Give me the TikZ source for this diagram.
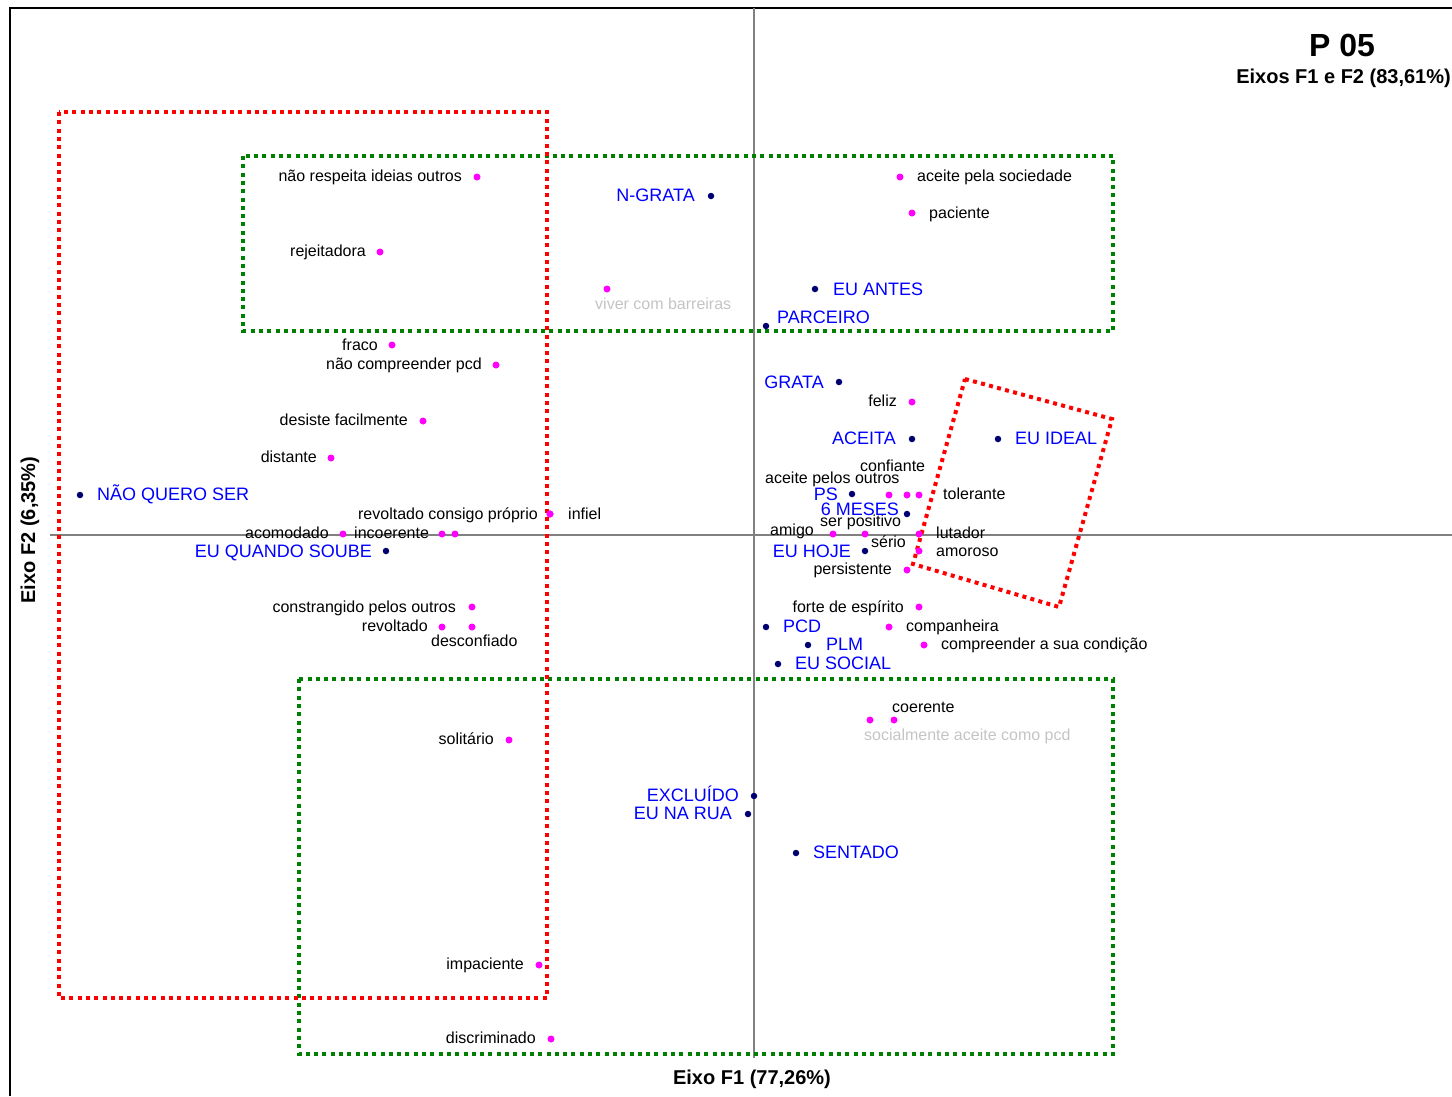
\documentclass[tikz,border=0pt]{standalone}
\usepackage{fontspec}
\setmainfont{Liberation Sans}
\definecolor{ptmag}{HTML}{FF00FF}
\definecolor{ptnavy}{HTML}{000070}
\definecolor{lblblue}{HTML}{0000FF}
\definecolor{lblgray}{HTML}{C4C4C4}
\definecolor{axgray}{HTML}{808080}
\definecolor{boxred}{HTML}{FF0000}
\definecolor{boxgreen}{HTML}{008000}
\tikzset{
  mdot/.style={circle,fill=ptmag,draw=none,minimum size=7pt,inner sep=0pt},
  ndot/.style={circle,fill=ptnavy,draw=none,minimum size=6.5pt,inner sep=0pt},
  lbl/.style={anchor=west,inner sep=0pt,text height=11.5pt,text depth=0pt,
    font=\fontsize{16}{19}\selectfont,text=black},
  blbl/.style={lbl,text height=12.9pt,font=\fontsize{18}{21}\selectfont,text=lblblue},
  glbl/.style={lbl,text=lblgray},
  dotbox/.style={line width=4pt,dash pattern=on 4pt off 4.3pt},
  redbox/.style={dotbox,draw=boxred},
  greenbox/.style={dotbox,draw=boxgreen},
  axisline/.style={draw=axgray,line width=1.4pt},
  framing/.style={draw=black,line width=1.5pt},
}
\begin{document}
\begin{tikzpicture}[x=1pt,y=-1pt]
\useasboundingbox (0,0) rectangle (1452,1096);
% frame and axes
\draw[framing] (10,1096) -- (10,8) -- (1452,8);
\draw[axisline] (754,8) -- (754,1058);
\draw[axisline] (50,535) -- (1452,535);
% grouping boxes
\draw[greenbox] (243,156) rectangle (1113,331);
\draw[greenbox] (299,679) rectangle (1113,1054);
\draw[redbox] (59,112) rectangle (547,998);
\draw[redbox] (965,379) -- (1112,419) -- (1059,607) -- (913,564) -- cycle;
% titles
\node[inner sep=0pt,font=\fontsize{32}{36}\bfseries\selectfont] (title) at (1342,45) {P 05};
\node[inner sep=0pt,anchor=east,font=\fontsize{20}{23}\bfseries\selectfont] (subtitle) at (1451,78) {Eixos F1 e F2 (83,61\%)};
\node[inner sep=0pt,font=\fontsize{20}{23}\bfseries\selectfont] (xlab) at (752,1079) {Eixo F1 (77,26\%)};
\node[inner sep=0pt,rotate=90,font=\fontsize{20}{23}\bfseries\selectfont] (ylab) at (30,530) {Eixo F2 (6,35\%)};
% magenta points (left)
\node[mdot] (p1) at (477,177) {};   \node[lbl,anchor=east] (l1) at (462,176) {não respeita ideias outros};
\node[mdot] (p2) at (380,252) {};   \node[lbl,anchor=east] (l2) at (366,251) {rejeitadora};
\node[mdot] (p3) at (607,289) {};   \node[glbl] (l3) at (595,304) {viver com barreiras};
\node[mdot] (p4) at (392,345) {};   \node[lbl,anchor=east] (l4) at (378,345) {fraco};
\node[mdot] (p5) at (496,365) {};   \node[lbl,anchor=east] (l5) at (482,364) {não compreender pcd};
\node[mdot] (p6) at (423,421) {};   \node[lbl,anchor=east] (l6) at (408,420) {desiste facilmente};
\node[mdot] (p7) at (331,458) {};   \node[lbl,anchor=east] (l7) at (317,457) {distante};
\node[mdot] (p8) at (550,514) {};   \node[lbl,anchor=east] (l8) at (538,514) {revoltado consigo próprio};
\node[mdot] (p9) at (550,514) {};   \node[lbl] (l9) at (568,514) {infiel};
\node[mdot] (p10) at (343,534) {};  \node[lbl,anchor=east] (l10) at (329,533) {acomodado};
\node[mdot] (p11) at (442,534) {};  \node[lbl] (l11) at (354,533) {incoerente};
\node[mdot] (p11b) at (455,534) {};
\node[mdot] (p12) at (472,607) {};  \node[lbl,anchor=east] (l12) at (456,607) {constrangido pelos outros};
\node[mdot] (p13) at (442,627) {};  \node[lbl,anchor=east] (l13) at (428,626) {revoltado};
\node[mdot] (p14) at (472,627) {};  \node[lbl] (l14) at (431,641) {desconfiado};
\node[mdot] (p15) at (509,740) {};  \node[lbl,anchor=east] (l15) at (494,739) {solitário};
\node[mdot] (p16) at (539,965) {};  \node[lbl,anchor=east] (l16) at (524,964) {impaciente};
\node[mdot] (p17) at (551,1039) {}; \node[lbl,anchor=east] (l17) at (536,1038) {discriminado};
% magenta points (right)
\node[mdot] (p18) at (900,177) {};  \node[lbl] (l18) at (917,176) {aceite pela sociedade};
\node[mdot] (p19) at (912,213) {};  \node[lbl] (l19) at (929,213) {paciente};
\node[mdot] (p20) at (912,402) {};  \node[lbl,anchor=east] (l20) at (897,401) {feliz};
\node[mdot] (p21) at (907,495) {};  \node[lbl] (l21) at (860,466) {confiante};
\node[mdot] (p22) at (889,495) {};  \node[lbl] (l22) at (765,478) {aceite pelos outros};
\node[mdot] (p23) at (919,495) {};  \node[lbl] (l23) at (943,494) {tolerante};
\node[mdot] (p24) at (865,534) {};  \node[lbl] (l24) at (820,521) {ser positivo};
\node[mdot] (p25) at (833,534) {};  \node[lbl,anchor=east] (l25) at (814,530) {amigo};
\node[lbl] (l27) at (871,542) {sério};
\node[mdot] (p28) at (919,534) {};  \node[lbl] (l28) at (936,533) {lutador};
\node[mdot] (p29) at (919,551) {};  \node[lbl] (l29) at (936,551) {amoroso};
\node[mdot] (p30) at (907,570) {};  \node[lbl,anchor=east] (l30) at (892,569) {persistente};
\node[mdot] (p31) at (919,607) {};  \node[lbl,anchor=east] (l31) at (904,607) {forte de espírito};
\node[mdot] (p32) at (889,627) {};  \node[lbl] (l32) at (906,626) {companheira};
\node[mdot] (p33) at (924,645) {};  \node[lbl] (l33) at (941,644) {compreender a sua condição};
\node[mdot] (p34) at (894,720) {};  \node[lbl] (l34) at (892,707) {coerente};
\node[mdot] (p35) at (870,720) {};  \node[glbl] (l35) at (864,735) {socialmente aceite como pcd};
% navy points with blue labels
\node[ndot] (n1) at (711,196) {};   \node[blbl,anchor=east] (b1) at (695,195) {N-GRATA};
\node[ndot] (n2) at (815,289) {};   \node[blbl] (b2) at (833,289) {EU ANTES};
\node[ndot] (n3) at (766,326) {};   \node[blbl] (b3) at (777,317) {PARCEIRO};
\node[ndot] (n4) at (839,382) {};   \node[blbl,anchor=east] (b4) at (824,382) {GRATA};
\node[ndot] (n5) at (912,439) {};   \node[blbl,anchor=east] (b5) at (896,438) {ACEITA};
\node[ndot] (n6) at (998,439) {};   \node[blbl] (b6) at (1015,438) {EU IDEAL};
\node[ndot] (n7) at (80,495) {};    \node[blbl] (b7) at (97,494) {NÃO QUERO SER};
\node[ndot] (n8) at (386,551) {};   \node[blbl,anchor=east] (b8) at (372,551) {EU QUANDO SOUBE};
\node[ndot] (n9) at (852,494) {};   \node[blbl,anchor=east] (b9) at (838,494) {PS};
\node[ndot] (n10) at (907,514) {};  \node[blbl,anchor=east] (b10) at (899,509) {6 MESES};
\node[ndot] (n11) at (865,551) {};  \node[blbl,anchor=east] (b11) at (851,551) {EU HOJE};
\node[ndot] (n12) at (766,627) {};  \node[blbl] (b12) at (783,626) {PCD};
\node[ndot] (n13) at (808,645) {};  \node[blbl] (b13) at (826,644) {PLM};
\node[ndot] (n14) at (778,664) {};  \node[blbl] (b14) at (795,663) {EU SOCIAL};
\node[ndot] (n15) at (754,796) {};  \node[blbl,anchor=east] (b15) at (739,795) {EXCLUÍDO};
\node[ndot] (n16) at (748,814) {};  \node[blbl,anchor=east] (b16) at (732,813) {EU NA RUA};
\node[ndot] (n17) at (796,853) {};  \node[blbl] (b17) at (813,852) {SENTADO};
\end{tikzpicture}
\end{document}
